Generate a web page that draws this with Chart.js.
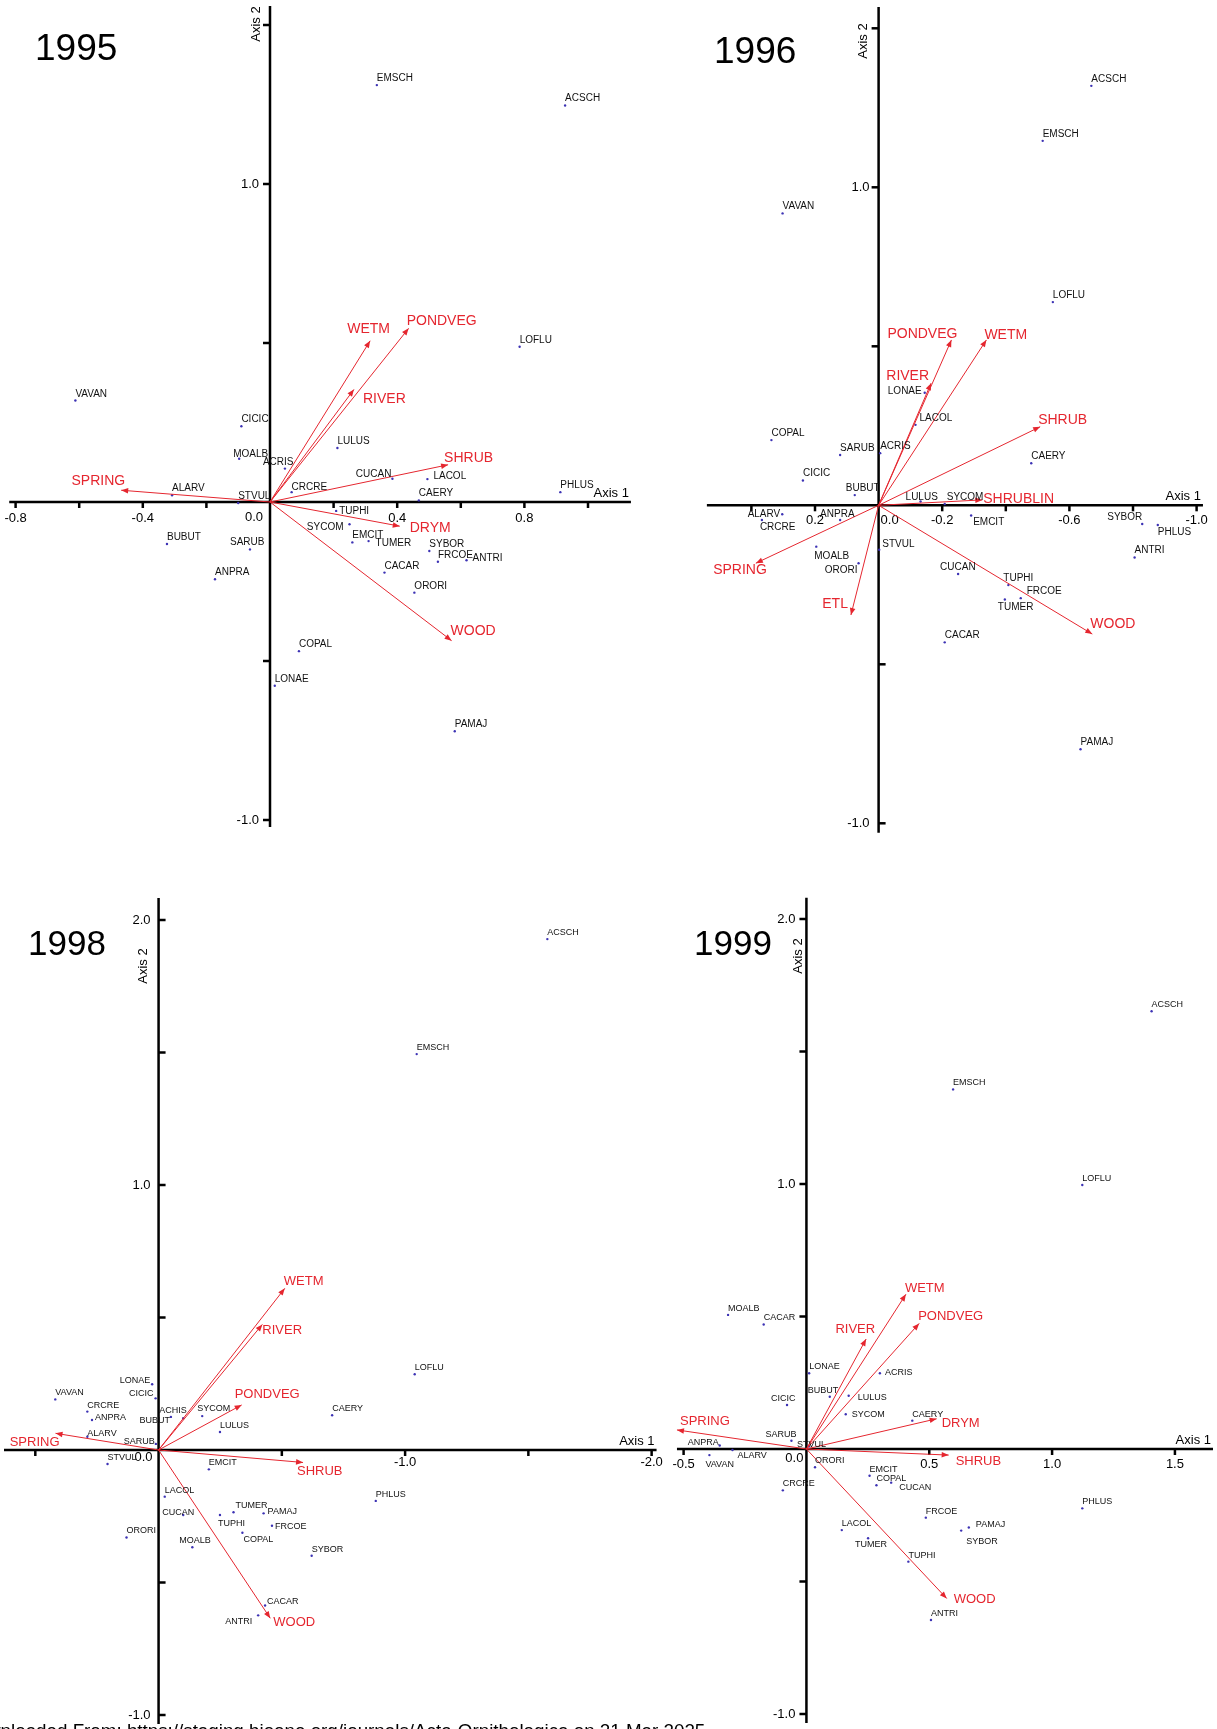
<!DOCTYPE html>
<html>
<head>
<meta charset="utf-8">
<script src="https://cdn.jsdelivr.net/npm/chart.js@4.4.1/dist/chart.umd.min.js"></script>
<style>
html,body{margin:0;padding:0;background:#fff;}
body{width:1217px;height:1729px;position:relative;overflow:hidden;font-family:"Liberation Sans",Arial,sans-serif;}
canvas{position:absolute;}
#foot{position:absolute;left:-37px;top:1720px;font-size:18.8px;line-height:22px;white-space:nowrap;color:#000;}
</style>
</head>
<body>
<canvas id="c95"></canvas>
<canvas id="c96"></canvas>
<canvas id="c98"></canvas>
<canvas id="c99"></canvas>
<div id="foot">Downloaded From: https://staging.bioone.org/journals/Acta-Ornithologica on 21 Mar 2025</div>
<script>
// ---- 1995 ----
const sp95  = ['EMSCH','ACSCH','LOFLU','VAVAN','CICIC','LULUS','MOALB','ACRIS','CUCAN','LACOL','ALARV','CRCRE','CAERY','PHLUS','STVUL','TUPHI','SYCOM','EMCIT','TUMER','SYBOR','FRCOE','ANTRI','CACAR','ORORI','BUBUT','SARUB','ANPRA','COPAL','LONAE','PAMAJ'];
const sp95x = [0.336,0.928,0.785,-0.612,-0.090,0.212,-0.097,0.047,0.385,0.495,-0.308,0.068,0.468,0.913,-0.100,0.208,0.250,0.259,0.310,0.501,0.528,0.618,0.360,0.454,-0.324,-0.063,-0.173,0.091,0.015,0.581];
const sp95y = [1.311,1.247,0.488,0.319,0.238,0.170,0.136,0.105,0.073,0.072,0.021,0.031,0.005,0.031,-0.003,-0.028,-0.070,-0.127,-0.123,-0.154,-0.188,-0.183,-0.222,-0.285,-0.132,-0.149,-0.243,-0.469,-0.578,-0.721];
const env95  = ['WETM','PONDVEG','RIVER','SHRUB','SPRING','DRYM','WOOD'];
const env95x = [0.315,0.436,0.264,0.560,-0.468,0.408,0.571];
const env95y = [0.507,0.546,0.354,0.117,0.037,-0.076,-0.436];
const xLab95 = [-0.8,-0.4,0.4,0.8];
const yLab95 = [1.0,-1.0];

// ---- 1996 ----
const sp96  = ['ACSCH','EMSCH','VAVAN','LOFLU','LONAE','LACOL','COPAL','SARUB','ACRIS','CAERY','CICIC','BUBUT','LULUS','SYCOM','ALARV','CRCRE','ANPRA','EMCIT','SYBOR','PHLUS','STVUL','MOALB','ORORI','ANTRI','CUCAN','TUPHI','FRCOE','TUMER','CACAR','PAMAJ'];
const sp96x = [-0.669,-0.516,0.302,-0.548,-0.145,-0.116,0.337,0.121,-0.005,-0.480,0.238,0.075,-0.132,-0.208,0.303,0.367,0.121,-0.291,-0.829,-0.878,-0.002,0.196,0.063,-0.805,-0.250,-0.408,-0.447,-0.397,-0.208,-0.635];
const sp96y = [1.319,1.146,0.918,0.639,0.354,0.253,0.205,0.158,0.164,0.132,0.078,0.032,0.012,0.004,-0.028,-0.046,-0.046,-0.032,-0.059,-0.062,-0.140,-0.130,-0.182,-0.164,-0.216,-0.251,-0.292,-0.296,-0.431,-0.767];
const env96  = ['PONDVEG','WETM','RIVER','SHRUB','SHRUBLIN','SPRING','ETL','WOOD'];
const env96x = [-0.229,-0.339,-0.165,-0.508,-0.326,0.386,0.087,-0.672];
const env96y = [0.520,0.520,0.384,0.247,0.017,-0.182,-0.345,-0.405];
const xLab96 = [0.2,-0.2,-0.6,-1.0];
const yLab96 = [1.0,-1.0];

// ---- 1998 ----
const sp98  = ['ACSCH','EMSCH','LOFLU','LONAE','VAVAN','CICIC','CRCRE','ACHIS','SYCOM','CAERY','ANPRA','BUBUT','LULUS','ALARV','SARUB','STVUL','EMCIT','LACOL','PHLUS','TUMER','CUCAN','TUPHI','PAMAJ','FRCOE','COPAL','ORORI','MOALB','SYBOR','CACAR','ANTRI'];
const sp98x = [-1.577,-1.047,-1.039,0.026,0.419,0.012,0.289,-0.100,-0.177,-0.704,0.270,-0.050,-0.249,0.289,0.011,0.207,-0.204,-0.025,-0.881,-0.304,-0.100,-0.249,-0.426,-0.460,-0.340,0.130,-0.137,-0.621,-0.432,-0.404];
const sp98y = [1.928,1.494,0.286,0.248,0.191,0.195,0.145,0.120,0.128,0.131,0.113,0.125,0.068,0.050,0.023,-0.053,-0.073,-0.176,-0.192,-0.235,-0.245,-0.245,-0.239,-0.286,-0.312,-0.330,-0.367,-0.399,-0.587,-0.624];
const env98  = ['WETM','RIVER','PONDVEG','SPRING','SHRUB','WOOD'];
const env98x = [-0.512,-0.421,-0.337,0.418,-0.586,-0.453];
const env98y = [0.610,0.474,0.170,0.063,-0.047,-0.635];
const xLab98 = [-1.0,-2.0];
const yLab98 = [2.0,1.0,-1.0];

// ---- 1999 ----
const sp99  = ['ACSCH','EMSCH','LOFLU','MOALB','CACAR','LONAE','ACRIS','BUBUT','LULUS','CICIC','SYCOM','CAERY','SARUB','STVUL','ANPRA','ALARV','VAVAN','ORORI','EMCIT','COPAL','CUCAN','CRCRE','PHLUS','FRCOE','PAMAJ','SYBOR','LACOL','TUMER','TUPHI','ANTRI'];
const sp99x = [1.405,0.597,1.123,-0.319,-0.174,0.011,0.299,0.095,0.172,-0.079,0.160,0.431,-0.061,0.010,-0.353,-0.301,-0.395,0.035,0.257,0.285,0.345,-0.096,1.123,0.486,0.661,0.630,0.144,0.251,0.415,0.507];
const sp99y = [1.652,1.357,0.996,0.506,0.470,0.286,0.286,0.197,0.201,0.166,0.131,0.107,0.031,0.010,0.013,-0.004,-0.023,-0.069,-0.101,-0.137,-0.127,-0.156,-0.224,-0.259,-0.296,-0.308,-0.306,-0.337,-0.425,-0.645];
const env99  = ['WETM','PONDVEG','RIVER','DRYM','SPRING','SHRUB','WOOD'];
const env99x = [0.405,0.459,0.243,0.530,-0.527,0.579,0.571];
const env99y = [0.584,0.474,0.415,0.114,0.072,-0.023,-0.564];
const xLab99 = [-0.5,0.5,1.0,1.5];
const yLab99 = [2.0,1.0,-1.0];

// label nudges (px from the point: dx, dy, align)
const spNudge95 = {ACRIS:[-22,-4],TUPHI:[3,3],SYCOM:[-6,6,'right'],TUMER:[7,5],ANTRI:[6,1],SARUB:[-20,-4],LACOL:[6,0],CUCAN:[-1,-2,'right'],MOALB:[-6,-2],CRCRE:[0,-2]};
const envNudge95 = {WETM:[-23,-12],PONDVEG:[-2,-7],RIVER:[9,10],SHRUB:[-4,-7],SPRING:[4,-9,'right'],DRYM:[10,2],WOOD:[-1,-10]};
const spNudge96 = {LACOL:[4,-4],BUBUT:[-9,-4],LULUS:[-15,-1],SYCOM:[2,-4],ALARV:[-2,3,'right'],CRCRE:[-2,10],ANPRA:[-20,-3],EMCIT:[2,10],SYBOR:[0,-4,'right'],PHLUS:[0,10],STVUL:[3,-3],MOALB:[-2,12],ORORI:[-1,10,'right'],CUCAN:[-18,-4],TUPHI:[-5,-4],FRCOE:[6,-4],TUMER:[-7,11],LONAE:[-3,1,'right']};
const envNudge96 = {PONDVEG:[6,-6,'right'],WETM:[-2,-5],RIVER:[-2,-7,'right'],SHRUB:[-2,-7],SHRUBLIN:[1,-1],SPRING:[11,7,'right'],ETL:[-3,-11,'right'],WOOD:[-2,-10]};
const spNudge98 = {LONAE:[-2,-1,'right'],CICIC:[-2,-2,'right'],ANPRA:[3,0],ACHIS:[-24,-5],SYCOM:[-5,-5],BUBUT:[-1,6,'right'],ALARV:[0,-1],SARUB:[-1,0,'right'],CUCAN:[-21,0],TUPHI:[-2,11],PAMAJ:[4,1],FRCOE:[3,3],COPAL:[1,9],MOALB:[-13,-4],CACAR:[2,-2],ANTRI:[-6,9,'right'],TUMER:[2,-4]};
const envNudge98 = {WETM:[-1,-7],RIVER:[0,6],PONDVEG:[-7,-11],SPRING:[4,9,'right'],SHRUB:[-6,9],WOOD:[3,4]};
const spNudge99 = {ACRIS:[5,2],BUBUT:[-22,-4],LULUS:[9,4],CICIC:[-16,-4],SYCOM:[6,3],SARUB:[-26,-4],STVUL:[-12,1],ANPRA:[-1,-1,'right'],ALARV:[5,8],VAVAN:[-4,12],CUCAN:[8,7],PAMAJ:[7,0],SYBOR:[5,13],TUMER:[-13,9]};
const envNudge99 = {WETM:[-1,-6],PONDVEG:[-1,-7],RIVER:[9,-10,'right'],DRYM:[5,5],SPRING:[3,-8],SHRUB:[7,6],WOOD:[7,1]};

const RED = '#e5262f';
const DOT = '#3c32b4';
const FONT = '"Liberation Sans", Arial, sans-serif';

// panel geometry: canvas box, origin on page, px per unit, axis ranges
const panels = [
  {id:'c95', year:'1995', box:[0,0,660,870], origin:[270,502], unit:[318,318], xr:[-0.82,1.135], yr:[-1.022,1.56], reverse:false,
   xStep:0.2, yStep:0.5, sp:sp95, spX:sp95x, spY:sp95y, env:env95, envX:env95x, envY:env95y, xLab:xLab95, yLab:yLab95,
   spNudge:spNudge95, envNudge:envNudge95, title:[35,60,37], axis2:[-14,24], zero:[-7,15,'right'], xLabDy:16, yLabDx:-11,
   yTickSide:-1, spFont:10, envFont:14},
  {id:'c96', year:'1996', box:[680,0,537,870], origin:[878.6,505.3], unit:[318,318], xr:[-1.02,0.54], yr:[-1.03,1.567], reverse:true,
   xStep:0.2, yStep:0.5, sp:sp96, spX:sp96x, spY:sp96y, env:env96, envX:env96x, envY:env96y, xLab:xLab96, yLab:yLab96,
   spNudge:spNudge96, envNudge:envNudge96, title:[714,63,37], axis2:[-15,41], zero:[2,15,'left'], xLabDy:15, yLabDx:-9,
   yTickSide:0, spFont:10, envFont:14},
  {id:'c98', year:'1998', box:[0,870,680,859], origin:[155.6,1450], unit:[248,265], xr:[-2.02,0.627], yr:[-1.034,2.083], reverse:true,
   xStep:0.5, yStep:0.5, sp:sp98, spX:sp98x, spY:sp98y, env:env98, envX:env98x, envY:env98y, xLab:xLab98, yLab:yLab98,
   spNudge:spNudge98, envNudge:envNudge98, title:[28,955,35], axis2:[-15,966], zero:[-6,7,'right'], xLabDy:12, yLabDx:-8,
   yTickSide:1, spFont:9, envFont:13},
  {id:'c99', year:'1999', box:[640,870,577,859], origin:[807.4,1449], unit:[247.5,265], xr:[-0.527,1.655], yr:[-1.034,2.08], reverse:false,
   xStep:0.5, yStep:0.5, sp:sp99, spX:sp99x, spY:sp99y, env:env99, envX:env99x, envY:env99y, xLab:xLab99, yLab:yLab99,
   spNudge:spNudge99, envNudge:envNudge99, title:[694,955,35], axis2:[-8.5,956], zero:[-3,9,'right'], xLabDy:15, yLabDx:-11,
   yTickSide:-1, spFont:9, envFont:13}
];

function fmt(v){ return v.toFixed(1); }

// every multiple of step inside the scale range (0 excluded, the axes cross there)
function stepValues(scale, step){
  const out = [];
  const k0 = Math.ceil(scale.min / step - 1e-9), k1 = Math.floor(scale.max / step + 1e-9);
  for (let k = k0; k <= k1; k++) if (k !== 0) out.push(+(k * step).toFixed(6));
  return out;
}

const biplot = {
  id: 'biplot',
  beforeDatasetsDraw(chart, args, p) {
    const ctx = chart.ctx, xs = chart.scales.x, ys = chart.scales.y, a = chart.chartArea;
    const ox = xs.getPixelForValue(0), oy = ys.getPixelForValue(0);
    ctx.save();
    ctx.strokeStyle = '#000';
    ctx.lineWidth = 2.5;
    ctx.beginPath();
    ctx.moveTo(a.left, oy); ctx.lineTo(a.right, oy);
    ctx.moveTo(ox, a.top); ctx.lineTo(ox, a.bottom);
    ctx.stroke();

    // tick marks + labels
    ctx.fillStyle = '#000';
    ctx.font = '13px ' + FONT;
    stepValues(xs, p.xStep).forEach(v => {
      const x = xs.getPixelForValue(v);
      ctx.beginPath(); ctx.moveTo(x, oy); ctx.lineTo(x, oy + 6); ctx.stroke();
      if (p.xLab.some(l => Math.abs(l - v) < 1e-6)) {
        ctx.textAlign = 'center'; ctx.textBaseline = 'middle';
        ctx.fillText(fmt(v), x, oy + p.xLabDy);
      }
    });
    stepValues(ys, p.yStep).forEach(v => {
      const y = ys.getPixelForValue(v);
      let side = p.yTickSide;
      if (side === 0) side = v > 0 ? -1 : 1;
      ctx.beginPath(); ctx.moveTo(ox, y); ctx.lineTo(ox + side * 7, y); ctx.stroke();
      if (p.yLab.some(l => Math.abs(l - v) < 1e-6)) {
        ctx.textAlign = 'right'; ctx.textBaseline = 'middle';
        ctx.fillText(fmt(v), ox + p.yLabDx, y);
      }
    });
    // origin label
    ctx.textAlign = p.zero[2]; ctx.textBaseline = 'middle';
    ctx.fillText('0.0', ox + p.zero[0], oy + p.zero[1]);

    // axis names
    ctx.textAlign = 'right'; ctx.textBaseline = 'alphabetic';
    ctx.fillText('Axis 1', a.right - 2, oy - 5);
    ctx.save();
    ctx.translate(ox + p.axis2[0], p.axis2[1] - p.box[1]);
    ctx.rotate(-Math.PI / 2);
    ctx.textAlign = 'center'; ctx.textBaseline = 'middle';
    ctx.fillText('Axis 2', 0, 0);
    ctx.restore();

    // year
    ctx.font = p.title[2] + 'px ' + FONT;
    ctx.textAlign = 'left'; ctx.textBaseline = 'alphabetic';
    ctx.fillText(p.year, p.title[0] - p.box[0], p.title[1] - p.box[1]);
    ctx.restore();
  },
  afterDatasetsDraw(chart, args, p) {
    const ctx = chart.ctx, xs = chart.scales.x, ys = chart.scales.y;
    const ox = xs.getPixelForValue(0), oy = ys.getPixelForValue(0);
    ctx.save();
    // arrow heads + env labels
    ctx.fillStyle = RED;
    ctx.font = p.envFont + 'px ' + FONT;
    p.env.forEach((name, i) => {
      const tx = xs.getPixelForValue(p.envX[i]), ty = ys.getPixelForValue(p.envY[i]);
      const ang = Math.atan2(ty - oy, tx - ox);
      const L = 7, W = 2.8;
      const bx = tx - L * Math.cos(ang), by = ty - L * Math.sin(ang);
      ctx.beginPath();
      ctx.moveTo(tx, ty);
      ctx.lineTo(bx - W * Math.sin(ang), by + W * Math.cos(ang));
      ctx.lineTo(bx + W * Math.sin(ang), by - W * Math.cos(ang));
      ctx.closePath();
      ctx.fill();
      const n = p.envNudge[name] || [3, -6];
      ctx.textAlign = n[2] || 'left'; ctx.textBaseline = 'middle';
      ctx.fillText(name, tx + n[0], ty + n[1]);
    });
    // species labels
    ctx.fillStyle = '#111';
    ctx.font = p.spFont + 'px ' + FONT;
    p.sp.forEach((name, i) => {
      const x = xs.getPixelForValue(p.spX[i]), y = ys.getPixelForValue(p.spY[i]);
      const n = p.spNudge[name] || [0, -4];
      ctx.textAlign = n[2] || 'left'; ctx.textBaseline = 'alphabetic';
      ctx.fillText(name, x + n[0], y + n[1]);
    });
    ctx.restore();
  }
};

panels.forEach(p => {
  const cv = document.getElementById(p.id);
  const [bl, bt, bw, bh] = p.box;
  cv.width = bw; cv.height = bh;
  cv.style.left = bl + 'px'; cv.style.top = bt + 'px';
  cv.style.width = bw + 'px'; cv.style.height = bh + 'px';

  const sx = p.reverse ? -1 : 1;
  const xa = p.origin[0] + sx * p.xr[0] * p.unit[0];
  const xb = p.origin[0] + sx * p.xr[1] * p.unit[0];
  const left = Math.min(xa, xb) - bl, right = Math.max(xa, xb) - bl;
  const top = p.origin[1] - p.yr[1] * p.unit[1] - bt;
  const bottom = p.origin[1] - p.yr[0] * p.unit[1] - bt;

  const datasets = p.env.map((name, i) => ({
    label: name,
    data: [{x: 0, y: 0}, {x: p.envX[i], y: p.envY[i]}],
    showLine: true, borderColor: RED, borderWidth: 1,
    pointRadius: 0, clip: false
  }));
  datasets.push({
    label: 'species',
    data: p.sp.map((n, i) => ({x: p.spX[i], y: p.spY[i]})),
    pointRadius: 1.2, pointBackgroundColor: DOT, pointBorderWidth: 0, clip: false
  });

  new Chart(cv, {
    type: 'scatter',
    data: { datasets },
    options: {
      responsive: false,
      animation: false,
      devicePixelRatio: 1,
      layout: { padding: { left: left, right: bw - right, top: top, bottom: bh - bottom } },
      plugins: { legend: { display: false }, tooltip: { enabled: false }, biplot: p },
      scales: {
        x: { type: 'linear', min: p.xr[0], max: p.xr[1], reverse: p.reverse, display: false,
             ticks: { stepSize: p.xStep, autoSkip: false, includeBounds: false } },
        y: { type: 'linear', min: p.yr[0], max: p.yr[1], display: false,
             ticks: { stepSize: p.yStep, autoSkip: false, includeBounds: false } }
      }
    },
    plugins: [biplot]
  });
});
</script>
</body>
</html>
